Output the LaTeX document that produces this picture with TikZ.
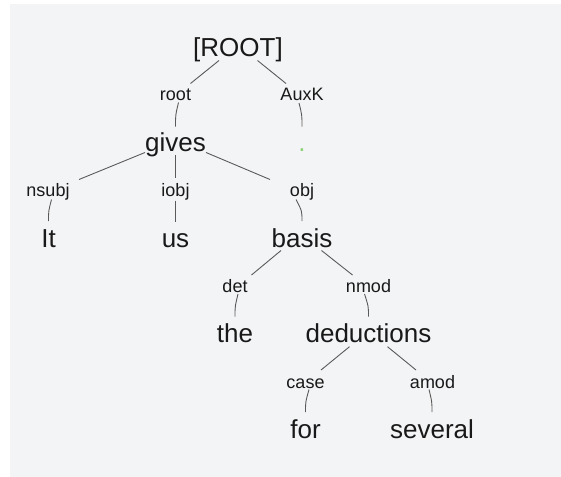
\documentclass[tikz,border=0pt]{standalone}
\usepackage{fontspec}
\setmainfont{Liberation Sans}
\usetikzlibrary{calc}
\definecolor{canvasbg}{RGB}{243,244,246}
\definecolor{edgegray}{RGB}{90,90,90}
\definecolor{inkdark}{RGB}{25,25,25}
\definecolor{punctgreen}{RGB}{140,210,120}
\tikzset{
  word/.style={anchor=base, inner sep=0pt, text=inkdark, font=\fontsize{26}{30}\selectfont},
  rel/.style={anchor=base, inner sep=0pt, text=inkdark, font=\fontsize{18}{22}\selectfont},
  edge/.style={draw=edgegray, line width=0.9pt}
}
\begin{document}
\begin{tikzpicture}[x=1pt,y=-1pt]
\useasboundingbox (0,0) rectangle (561,476);
\fill[canvasbg] (10,4) rectangle (575,490);

% tokens
\node[word] (ROOT) at (238,56.5) {[ROOT]};
\node[word] (gives) at (175.5,151) {gives};
\node[word, text=punctgreen] (punct) at (302,151) {.};
\node[word] (It) at (48.5,247) {It};
\node[word] (us) at (175.5,247) {us};
\node[word] (basis) at (302,247) {basis};
\node[word] (the) at (235,342.5) {the};
\node[word] (deductions) at (368.5,342.5) {deductions};
\node[word] (for) at (305.5,438) {for};
\node[word] (several) at (432,438) {several};

% relation labels
\node[rel] (lroot) at (175.5,100.5) {root};
\node[rel] (lauxk) at (302,100.5) {AuxK};
\node[rel] (lnsubj) at (48,196.5) {nsubj};
\node[rel] (liobj) at (175.5,196.5) {iobj};
\node[rel] (lobj) at (302,196.5) {obj};
\node[rel] (ldet) at (235,292.5) {det};
\node[rel] (lnmod) at (368.5,292.5) {nmod};
\node[rel] (lcase) at (305.5,388) {case};
\node[rel] (lamod) at (432.5,388) {amod};

% head -> relation label
\draw[edge] ($(ROOT.base)+(-19,4)$) -- ($(lroot.base)+(15,-17)$);
\draw[edge] ($(ROOT.base)+(19.5,4)$) -- ($(lauxk.base)+(-16,-17)$);
\draw[edge] ($(gives.base)+(-30.5,1.5)$) -- ($(lnsubj.base)+(31,-17)$);
\draw[edge] ($(gives.base)+(0,4)$) -- ($(liobj.base)+(0,-18.5)$);
\draw[edge] ($(gives.base)+(30.5,1.5)$) -- ($(lobj.base)+(-32,-17)$);
\draw[edge] ($(basis.base)+(-21,3.5)$) -- ($(ldet.base)+(16.5,-17.5)$);
\draw[edge] ($(basis.base)+(19.5,3.5)$) -- ($(lnmod.base)+(-16,-17.5)$);
\draw[edge] ($(deductions.base)+(-19,4.2)$) -- ($(lcase.base)+(15.5,-18)$);
\draw[edge] ($(deductions.base)+(19,4.2)$) -- ($(lamod.base)+(-16.5,-18)$);

% relation label -> dependent
\draw[edge] ($(lroot.base)+(3,2)$) .. controls ($(gives.base)+(0,-36)$) .. ($(gives.base)+(0,-24.5)$);
\draw[edge] ($(lauxk.base)+(-3,2.5)$) .. controls ($(punct.base)+(0,-36)$) .. ($(punct.base)+(0,-24.5)$);
\draw[edge] ($(lnsubj.base)+(3.5,3)$) .. controls ($(It.base)+(0,-36)$) .. ($(It.base)+(0,-26)$);
\draw[edge] ($(liobj.base)+(0,4)$) -- ($(us.base)+(0,-25.5)$);
\draw[edge] ($(lobj.base)+(-6,3)$) .. controls ($(basis.base)+(0,-36)$) .. ($(basis.base)+(0,-26)$);
\draw[edge] ($(ldet.base)+(3,1.5)$) .. controls ($(the.base)+(0,-36)$) .. ($(the.base)+(0,-26)$);
\draw[edge] ($(lnmod.base)+(-4,1.5)$) .. controls ($(deductions.base)+(0,-36)$) .. ($(deductions.base)+(0,-26)$);
\draw[edge] ($(lcase.base)+(3.5,1.5)$) .. controls ($(for.base)+(0,-36)$) .. ($(for.base)+(0,-26)$);
\draw[edge] ($(lamod.base)+(-3.5,1.5)$) .. controls ($(several.base)+(0,-36)$) .. ($(several.base)+(0,-26)$);
\end{tikzpicture}
\end{document}
